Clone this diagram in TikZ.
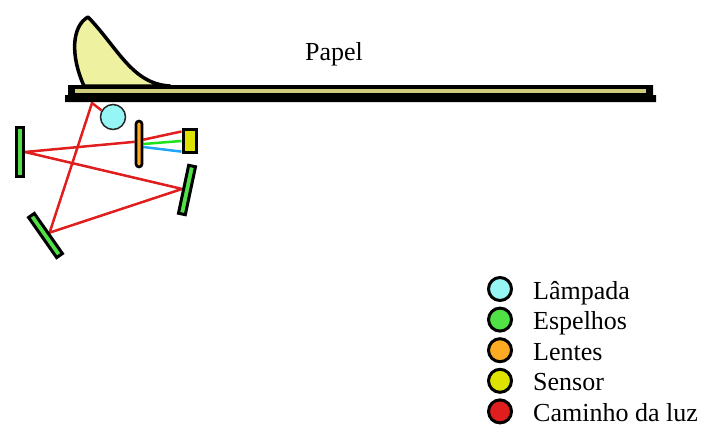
\documentclass[tikz,border=0pt]{standalone}
\usepackage{fontspec}
\setmainfont{Liberation Serif}
\usetikzlibrary{backgrounds}
\definecolor{lampcyan}{RGB}{150, 246, 246}
\definecolor{mirrorgreen}{RGB}{80, 225, 70}
\definecolor{lensorange}{RGB}{255, 170, 35}
\definecolor{sensoryellow}{RGB}{222, 226, 0}
\definecolor{raypath}{RGB}{225, 30, 30}
\definecolor{raygreen}{RGB}{30, 225, 30}
\definecolor{rayblue}{RGB}{30, 165, 245}
\definecolor{paperyellow}{RGB}{238, 242, 160}
\definecolor{stripe}{RGB}{205, 205, 125}

\begin{document}
\begin{tikzpicture}[x=1pt, y=-1pt,
  lamp/.style   = {circle, draw=black!85, line width=1.5pt, fill=lampcyan,
                   minimum size=25pt, inner sep=0pt},
  mirror/.style = {rectangle, draw=black, line width=3pt, fill=mirrorgreen,
                   minimum width=7pt, minimum height=49pt, inner sep=0pt},
  lens/.style   = {rectangle, rounded corners=3pt, draw=black, line width=2.6pt,
                   fill=lensorange, minimum width=6pt, minimum height=46pt, inner sep=0pt},
  sensor/.style = {rectangle, draw=black, line width=3pt, fill=sensoryellow,
                   minimum width=13pt, minimum height=23pt, inner sep=0pt},
  ray/.style    = {line width=2.5pt, color=raypath},
  key/.style    = {circle, draw=black, line width=3pt, minimum size=23pt, inner sep=0pt},
  lbl/.style    = {font=\fontsize{26}{30}\selectfont, inner sep=0pt, anchor=base west}
]
  \useasboundingbox (0,0) rectangle (704,439);

  % ---- Paper sheet on the glass ----
  \draw[line width=3.5pt, line join=round, fill=paperyellow]
    (84,86) .. controls (70,55) and (72,26) .. (88,17)
            .. controls (118,48) and (132,84) .. (170,86) -- cycle;
  \fill[black] (68,85) -- (653,85) -- (653,95) -- (656,95) -- (656,102)
               -- (65,102) -- (65,95) -- (68,95) -- cycle;
  \fill[stripe] (75,89) rectangle (646,92.5);
  \node[lbl] (papel) at (305,60) {Papel};

  % ---- Optics ----
  \node[lamp]               at (113,117) (lamp)   {};
  \node[mirror]             at (20,152)  (mirA)   {};
  \node[mirror, rotate=-12] at (187,190) (mirB)   {};
  \node[mirror, rotate=35]  at (45.5,235.5) (mirC) {};
  \node[lens]               at (139,144) (lens)   {};
  \node[sensor]             at (189.5,141) (sensor) {};
  \coordinate (bounce) at (92,103);

  % ---- Light path ----
  \begin{scope}[on background layer]
    \draw[ray, line join=round] (lamp.150) -- (bounce) -- (mirC.east)
      -- (mirB.west) -- (mirA.east) -- (lens.153);
    \draw[ray]                  (lens.45)   -- (sensor.130);
    \draw[ray, color=raygreen]  (lens.east) -- (sensor.west);
    \draw[ray, color=rayblue]   (lens.-35)  -- (sensor.233);
  \end{scope}

  % ---- Legend ----
  \node[key, fill=lampcyan]     at (500,289)   (kLamp)   {};
  \node[lbl]                    at (533,299)   {Lâmpada};
  \node[key, fill=mirrorgreen]  at (500,319.6) (kMirror) {};
  \node[lbl]                    at (533,329.6) {Espelhos};
  \node[key, fill=lensorange]   at (500,350.2) (kLens)   {};
  \node[lbl]                    at (533,360.2) {Lentes};
  \node[key, fill=sensoryellow] at (500,380.8) (kSensor) {};
  \node[lbl]                    at (533,390.8) {Sensor};
  \node[key, fill=raypath]      at (500,411.4) (kRay)    {};
  \node[lbl]                    at (533,421.4) {Caminho da luz};
\end{tikzpicture}
\end{document}
